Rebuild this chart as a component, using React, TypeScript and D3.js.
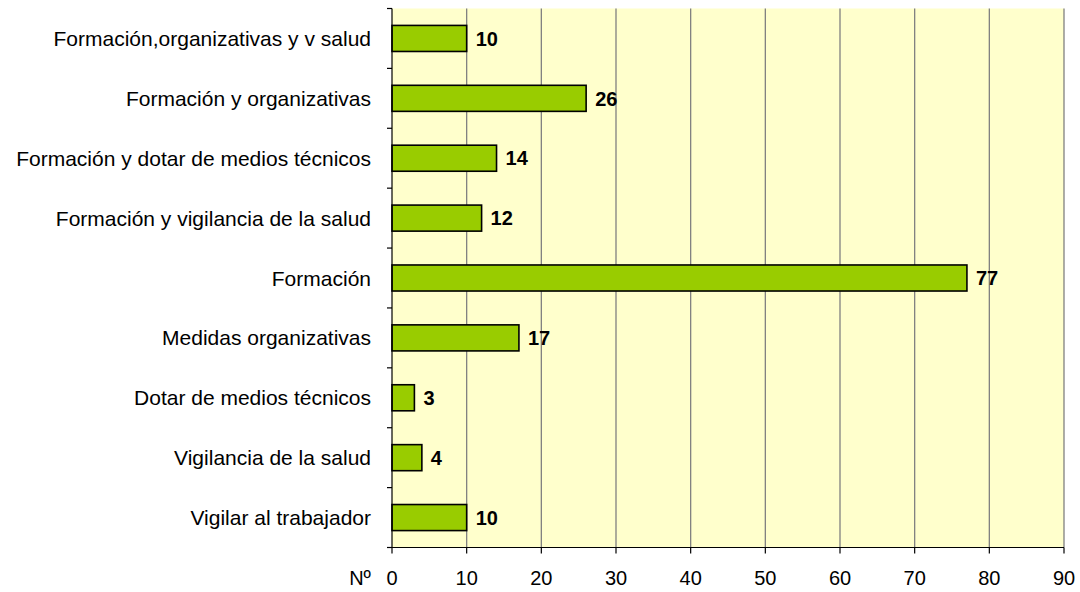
import * as d3 from "d3";
import { useEffect, useRef } from "react";

const categories = [
  "Formación,organizativas y v salud",
  "Formación y organizativas",
  "Formación y dotar de medios técnicos",
  "Formación y vigilancia de la salud",
  "Formación",
  "Medidas organizativas",
  "Dotar de medios técnicos",
  "Vigilancia de la salud",
  "Vigilar al trabajador",
];
const values = [10, 26, 14, 12, 77, 17, 3, 4, 10];
const xTicks = [0, 10, 20, 30, 40, 50, 60, 70, 80, 90];

const App = () => {
  const ref = useRef<SVGSVGElement>(null);

  useEffect(() => {
    const svg = d3.select(ref.current);
    svg.selectAll("*").remove();

    const left = 392;
    const right = 1064;
    const top = 8.5;
    const bottom = 547.5;
    const font = "'Liberation Sans', Arial, sans-serif";

    const x = d3.scaleLinear().domain([0, 90]).range([left, right]);
    const y = d3
      .scaleBand<string>()
      .domain(categories)
      .range([top, bottom])
      .paddingInner(0.565)
      .paddingOuter(0.2825);

    // plot background
    svg
      .append("rect")
      .attr("x", left)
      .attr("y", top)
      .attr("width", right - left)
      .attr("height", bottom - top)
      .attr("fill", "#FFFFCC");

    // vertical gridlines
    svg
      .append("g")
      .selectAll("line")
      .data(xTicks.slice(1))
      .join("line")
      .attr("x1", (d) => x(d))
      .attr("x2", (d) => x(d))
      .attr("y1", top)
      .attr("y2", bottom)
      .attr("stroke", "#808080")
      .attr("stroke-width", 1.3);

    // bars
    svg
      .append("g")
      .selectAll("rect")
      .data(values)
      .join("rect")
      .attr("x", x(0))
      .attr("y", (d, i) => y(categories[i])!)
      .attr("width", (d) => x(d) - x(0))
      .attr("height", y.bandwidth())
      .attr("fill", "#99CC00")
      .attr("stroke", "#000")
      .attr("stroke-width", 1.6);

    // value labels
    svg
      .append("g")
      .selectAll("text")
      .data(values)
      .join("text")
      .attr("x", (d) => x(d) + 9)
      .attr("y", (d, i) => y(categories[i])! + y.bandwidth() / 2)
      .attr("dy", "0.36em")
      .attr("font-family", font)
      .attr("font-size", 20)
      .attr("font-weight", "bold")
      .attr("fill", "#000")
      .text((d) => d);

    // y axis
    const yAxis = svg.append("g");
    yAxis
      .append("line")
      .attr("x1", left)
      .attr("x2", left)
      .attr("y1", top)
      .attr("y2", bottom)
      .attr("stroke", "#000")
      .attr("stroke-width", 1.2);
    const step = y.step();
    yAxis
      .selectAll("line.tick")
      .data(d3.range(categories.length + 1))
      .join("line")
      .attr("class", "tick")
      .attr("x1", left - 5)
      .attr("x2", left)
      .attr("y1", (i) => top + i * step)
      .attr("y2", (i) => top + i * step)
      .attr("stroke", "#000")
      .attr("stroke-width", 1.2);
    yAxis
      .selectAll("text")
      .data(categories)
      .join("text")
      .attr("x", 371)
      .attr("y", (d) => y(d)! + y.bandwidth() / 2)
      .attr("dy", "0.36em")
      .attr("text-anchor", "end")
      .attr("font-family", font)
      .attr("font-size", 21)
      .attr("fill", "#000")
      .text((d) => d);

    // x axis
    const xAxis = svg.append("g");
    xAxis
      .append("line")
      .attr("x1", left)
      .attr("x2", right)
      .attr("y1", bottom)
      .attr("y2", bottom)
      .attr("stroke", "#000")
      .attr("stroke-width", 1.2);
    xAxis
      .selectAll("line.tick")
      .data(xTicks)
      .join("line")
      .attr("class", "tick")
      .attr("x1", (d) => x(d))
      .attr("x2", (d) => x(d))
      .attr("y1", bottom)
      .attr("y2", bottom + 6)
      .attr("stroke", "#000")
      .attr("stroke-width", 1.2);
    xAxis
      .selectAll("text")
      .data(xTicks)
      .join("text")
      .attr("x", (d) => x(d))
      .attr("y", 585)
      .attr("text-anchor", "middle")
      .attr("font-family", font)
      .attr("font-size", 20)
      .attr("fill", "#000")
      .text((d) => d);
    xAxis
      .append("text")
      .attr("x", 360)
      .attr("y", 585)
      .attr("text-anchor", "middle")
      .attr("font-family", font)
      .attr("font-size", 20)
      .attr("fill", "#000")
      .text("Nº");
  }, []);

  return (
    <svg
      ref={ref}
      width={1080}
      height={592}
      style={{ position: "absolute", left: 0, top: 0, background: "#fff" }}
    ></svg>
  );
};

export default App;
